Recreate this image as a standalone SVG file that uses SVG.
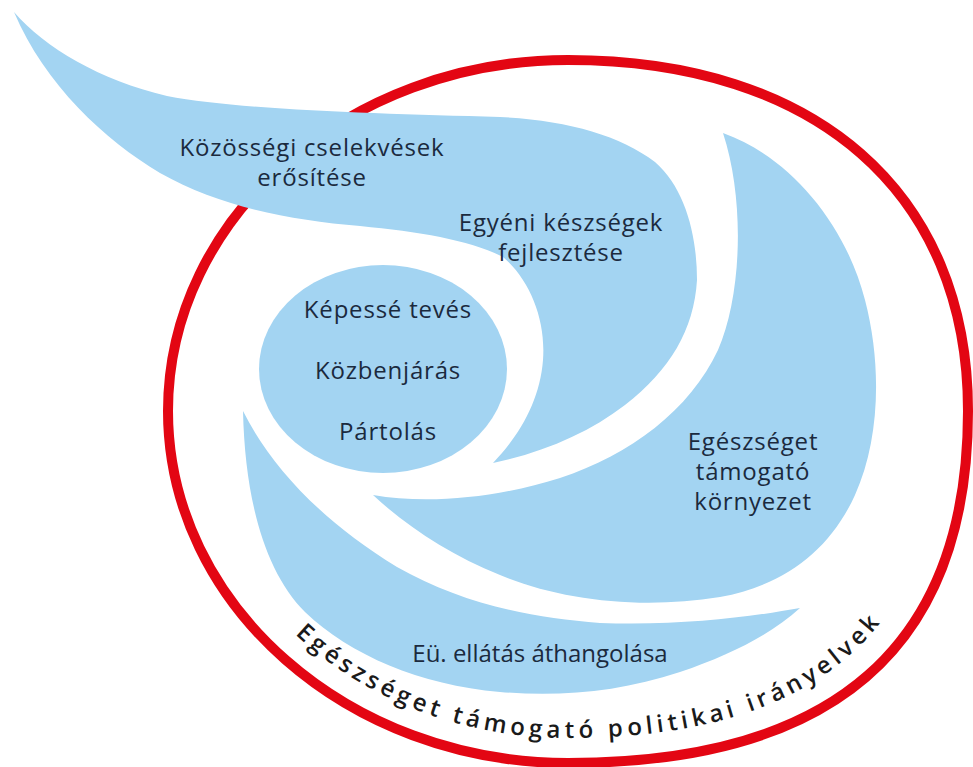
<svg xmlns="http://www.w3.org/2000/svg" width="973" height="767" viewBox="0 0 973 767">
<defs>
<style>
.blob{fill:#a3d4f2;}
.lbl{font-family:"Open Sans","Noto Sans","Liberation Sans",sans-serif;font-size:24px;fill:#1b2a3e;text-anchor:middle;letter-spacing:0.8px;}
.arc{font-family:"Open Sans","Noto Sans","Liberation Sans",sans-serif;font-size:24px;font-weight:600;fill:#1a1a1a;}
</style>
<path id="arcPath" d="M 194,411 C 194,591 362,738 568,738 C 817,738 942,629 942,411"/>
</defs>
<rect width="973" height="767" fill="#ffffff"/>
<g id="ring">
<path d="M 968,411 C 968,646 835,763 568,763 C 348,763 168,605 168,411 C 168,217 348,60 568,60 C 816,60 968,193 968,411 Z" fill="none" stroke="#e30613" stroke-width="10"/>
</g>
<g id="kozossegi">
<path class="blob" d="M 14,12 C 45,48 100,80 167,96 C 240,110 380,114 500,117 C 565,120 620,135 655,162 C 685,188 697,235 697,280 C 694,330 670,370 625,405 C 590,432 545,452 493,463 C 520,435 540,400 543,360 C 546,320 530,280 503,257 C 470,240 420,232 360,226 C 290,220 220,207 160,173 C 105,140 45,85 14,12 Z"/>
<text class="lbl" x="312" y="156">Közösségi cselekvések</text>
<text class="lbl" x="312" y="186">erősítése</text>
<text class="lbl" x="561" y="231">Egyéni készségek</text>
<text class="lbl" x="561" y="261">fejlesztése</text>
</g>
<g id="kozep">
<ellipse class="blob" cx="383" cy="369" rx="124" ry="104"/>
<text class="lbl" x="388" y="318">Képessé tevés</text>
<text class="lbl" x="388" y="379">Közbenjárás</text>
<text class="lbl" x="388" y="440">Pártolás</text>
</g>
<g id="kornyezet">
<path class="blob" d="M 723,133 C 788,156 845,222 865,300 C 882,365 880,440 855,495 C 830,550 785,585 720,597 C 640,610 560,600 500,575 C 450,555 405,525 373,495 C 430,505 500,497 560,478 C 630,455 690,410 718,350 C 742,295 745,200 723,133 Z"/>
<text class="lbl" x="753" y="450">Egészséget</text>
<text class="lbl" x="753" y="480">támogató</text>
<text class="lbl" x="753" y="510">környezet</text>
</g>
<g id="ellatas">
<path class="blob" d="M 243,411 C 270,465 320,520 397,567 C 460,603 530,618 600,623 C 680,626 750,617 800,608 C 770,635 730,655 680,672 C 620,692 560,697 500,692 C 420,685 350,655 305,612 C 265,572 245,500 243,411 Z"/>
<text class="lbl" x="540" y="662" style="letter-spacing:0">Eü. ellátás áthangolása</text>
</g>
<g id="iranyelvek">
<text class="arc"><textPath href="#arcPath" startOffset="252" textLength="643" lengthAdjust="spacing">Egészséget támogató politikai irányelvek</textPath></text>
</g>
</svg>
